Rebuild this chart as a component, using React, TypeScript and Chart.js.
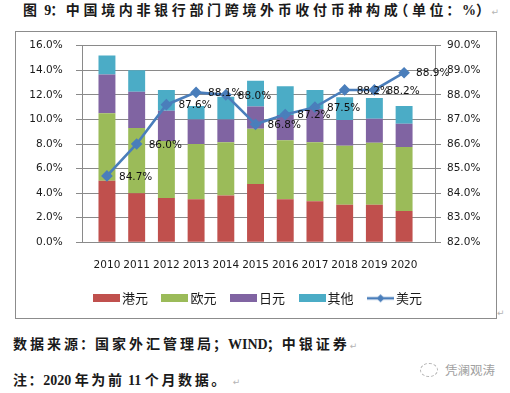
import React, { useEffect, useRef } from "react";
import { Chart, registerables } from "chart.js";

Chart.register(...registerables);

// ---- data ----
const years = ["2010", "2011", "2012", "2013", "2014", "2015", "2016", "2017", "2018", "2019", "2020"];
const hkd = [5.0, 4.0, 3.6, 3.5, 3.8, 4.75, 3.5, 3.35, 3.05, 3.05, 2.55];
const eur = [5.5, 5.3, 4.65, 4.5, 4.35, 4.5, 4.8, 4.8, 4.8, 5.05, 5.2];
const jpy = [3.15, 2.95, 2.45, 2.0, 1.85, 1.8, 2.05, 2.7, 2.1, 1.95, 1.9];
const other = [1.55, 1.75, 1.7, 1.1, 1.85, 2.1, 2.35, 1.55, 1.85, 1.7, 1.45];
const usd = [84.7, 86.0, 87.6, 88.1, 88.0, 86.8, 87.2, 87.5, 88.2, 88.2, 88.9];
const leftTicks = [0, 2, 4, 6, 8, 10, 12, 14, 16];
const rightTicks = [82, 83, 84, 85, 86, 87, 88, 89, 90];
const seriesNames = ["港元", "欧元", "日元", "其他", "美元"];

const colors = ["#C0504D", "#9BBB59", "#8064A2", "#4BACC6", "#4A7EBB"];
const gridColor = "#8a8a8a";
const tickFont = { family: '"DejaVu Sans"', size: 10.5 };

function pts(arr: number[]) {
  return arr.map((v, i) => ({ x: i, y: v }));
}

function makeIcon(color: string, isLine: boolean) {
  const c = document.createElement("canvas");
  c.width = 27;
  c.height = isLine ? 10 : 8;
  const g = c.getContext("2d")!;
  g.fillStyle = color;
  if (!isLine) {
    g.fillRect(0, 0, 27, 8);
    return c;
  }
  g.strokeStyle = color;
  g.lineWidth = 2.5;
  g.beginPath();
  g.moveTo(0, 5);
  g.lineTo(27, 5);
  g.stroke();
  g.beginPath();
  g.moveTo(13.5, 1);
  g.lineTo(17.5, 5);
  g.lineTo(13.5, 9);
  g.lineTo(9.5, 5);
  g.closePath();
  g.fill();
  return c;
}

const usdLabelPlugin = {
  id: "usdLabels",
  afterDatasetsDraw(chart: any) {
    const meta = chart.getDatasetMeta(4);
    const ctx = chart.ctx;
    ctx.save();
    ctx.font = '10.5px "DejaVu Sans"';
    ctx.fillStyle = "#111";
    ctx.textAlign = "left";
    ctx.textBaseline = "middle";
    meta.data.forEach((pt: any, i: number) => {
      ctx.fillText(usd[i].toFixed(1) + "%", pt.x + 12, pt.y + 1);
    });
    ctx.restore();
  },
};

function noPad(s: any) {
  s.paddingTop = 0;
  s.paddingBottom = 0;
}

function ChartBox() {
  const ref = useRef<HTMLCanvasElement>(null);
  useEffect(() => {
    const icons = colors.map((c, k) => makeIcon(c, k === 4));
    const barSets = [hkd, eur, jpy, other].map((arr, k) => ({
      type: "bar" as const,
      label: seriesNames[k],
      data: pts(arr),
      backgroundColor: colors[k],
      borderWidth: 0,
      barPercentage: 0.57,
      categoryPercentage: 1,
      yAxisID: "y",
      order: 1,
    }));
    const chart = new Chart(ref.current!, {
      type: "bar",
      data: {
        datasets: [
          ...barSets,
          {
            type: "line" as const,
            label: seriesNames[4],
            data: pts(usd),
            borderColor: colors[4],
            backgroundColor: colors[4],
            borderWidth: 2.6,
            pointStyle: "rectRot",
            pointRadius: 4,
            pointBackgroundColor: colors[4],
            pointBorderColor: colors[4],
            tension: 0,
            yAxisID: "y1",
            order: 0,
          } as any,
        ],
      },
      options: {
        animation: false,
        responsive: false,
        events: [],
        layout: { padding: { top: 13.7, bottom: 3.2, left: 7.5, right: 0 } },
        scales: {
          x: {
            type: "linear",
            min: -0.3,
            max: 10.5,
            stacked: true,
            afterBuildTicks: (s: any) => {
              s.ticks = years.map((_, i) => ({ value: i }));
            },
            afterFit: (s: any) => {
              s.height = 31.5;
              s.paddingLeft = 0;
              s.paddingRight = 0;
            },
            grid: { drawOnChartArea: false, drawTicks: false },
            border: { display: true, color: gridColor, width: 1 },
            ticks: {
              autoSkip: false,
              maxRotation: 0,
              minRotation: 0,
              padding: 16.4,
              color: "#1a1a1a",
              font: tickFont,
              callback: (v: any) => years[Math.round(Number(v))] ?? "",
            },
          },
          y: {
            type: "linear",
            position: "left",
            min: 0,
            max: 16,
            stacked: true,
            afterBuildTicks: (s: any) => {
              s.ticks = leftTicks.map((v) => ({ value: v }));
            },
            afterFit: (s: any) => {
              s.width = 58.5;
              noPad(s);
            },
            grid: { color: gridColor, tickLength: 6, drawTicks: true },
            border: { display: true, color: gridColor, width: 1 },
            ticks: {
              padding: 13.3,
              color: "#1a1a1a",
              font: tickFont,
              callback: (v: any) => Number(v).toFixed(1) + "%",
            },
          },
          y1: {
            type: "linear",
            position: "right",
            min: 82,
            max: 90,
            afterBuildTicks: (s: any) => {
              s.ticks = rightTicks.map((v) => ({ value: v }));
            },
            afterFit: (s: any) => {
              s.width = 61;
              noPad(s);
            },
            grid: { drawOnChartArea: false, color: gridColor, tickLength: 6, drawTicks: true },
            border: { display: true, color: gridColor, width: 1 },
            ticks: {
              padding: 6,
              color: "#1a1a1a",
              font: tickFont,
              callback: (v: any) => Number(v).toFixed(1) + "%",
            },
          },
        },
        plugins: {
          tooltip: { enabled: false },
          legend: {
            position: "bottom",
            labels: {
              usePointStyle: true,
              pointStyleWidth: 18,
              boxWidth: 18,
              boxHeight: 8,
              padding: 18,
              color: "#1a1a1a",
              font: { family: '"Noto Sans CJK SC"', size: 13 },
              generateLabels: () =>
                seriesNames.map((name, k) => ({
                  text: name,
                  fillStyle: colors[k],
                  strokeStyle: colors[k],
                  lineWidth: 0,
                  hidden: false,
                  datasetIndex: k,
                  fontColor: "#1a1a1a",
                  pointStyle: icons[k] as any,
                })),
            },
          },
        },
      } as any,
      plugins: [usdLabelPlugin],
    });
    return () => chart.destroy();
  }, []);
  return <canvas ref={ref} width={480} height={286} style={{ display: "block", width: 480, height: 286 }} />;
}

// text with Word-like character grid: CJK letter-spaced, punctuation narrowed
const CJK = /[\u3000-\u9fff\uff00-\uffef]/;
const COLONS = /[：；]/;
const TRIM_RIGHT = /[，。）]/;
const TRIM_LEFT = /[（]/;
function Spaced({ text, s }: { text: string; s: number }) {
  const chars = Array.from(text);
  return (
    <>
      {chars.map((ch, i) => {
        let style: any = {};
        if (COLONS.test(ch)) style = { marginLeft: -1, letterSpacing: s - 2 };
        else if (TRIM_RIGHT.test(ch)) style = { letterSpacing: s - 7 };
        else if (TRIM_LEFT.test(ch)) style = { marginLeft: -7, letterSpacing: s };
        else if (CJK.test(ch)) style = { letterSpacing: s };
        return (
          <span key={i} style={style}>
            {ch}
          </span>
        );
      })}
    </>
  );
}

const boldFont = '"Liberation Serif", "Noto Sans CJK SC", serif';
const mark = { color: "#b4b4b4", fontSize: 9, fontWeight: 400, fontFamily: '"DejaVu Sans"' } as const;
const textLine = {
  position: "absolute" as const,
  whiteSpace: "nowrap" as const,
  color: "#1a1a1a",
};

export default function App() {
  return (
    <div
      style={{
        position: "fixed",
        left: 0,
        top: 0,
        width: 510,
        height: 393,
        overflow: "hidden",
        background: "#fff",
      }}
    >
      <div style={{ ...textLine, left: 23, top: 3.3, font: `bold 14px/16px ${boldFont}` }}>
        <Spaced text="图 9：中国境内非银行部门跨境外币收付币种构成（单位：%）" s={3.65} />
        <span style={{ ...mark, marginLeft: 5 }}>↵</span>
      </div>
      <div
        style={{
          position: "absolute",
          left: 15,
          top: 31,
          width: 482,
          height: 288,
          boxSizing: "border-box",
          border: "1px solid #8c8c8c",
          background: "#fff",
        }}
      >
        <ChartBox />
      </div>
      <span style={{ position: "absolute", left: 497, top: 308, ...mark }}>↵</span>
      <div style={{ ...textLine, left: 13, top: 335.5, font: `bold 14px/18px ${boldFont}` }}>
        <Spaced text="数据来源：国家外汇管理局；WIND；中银证券" s={3.0} />
        <span style={{ ...mark, marginLeft: 0 }}>↵</span>
      </div>
      <div
        style={{
          position: "absolute",
          left: 420,
          top: 362,
          whiteSpace: "nowrap",
          font: `12.5px/16px "Noto Sans CJK SC", sans-serif`,
          color: "#a0a0a0",
          display: "flex",
          alignItems: "center",
        }}
      >
        <span
          style={{
            display: "inline-block",
            width: 16,
            height: 12,
            border: "1px dashed #b0b0b0",
            borderRadius: "50%",
            marginRight: 7,
          }}
        />
        凭澜观涛
      </div>
      <div style={{ ...textLine, left: 13, top: 371.5, font: `bold 14px/18px ${boldFont}` }}>
        <Spaced text="注：2020 年为前 11 个月数据。" s={2.6} />
        <span style={{ ...mark, marginLeft: 12 }}>↵</span>
      </div>
    </div>
  );
}
